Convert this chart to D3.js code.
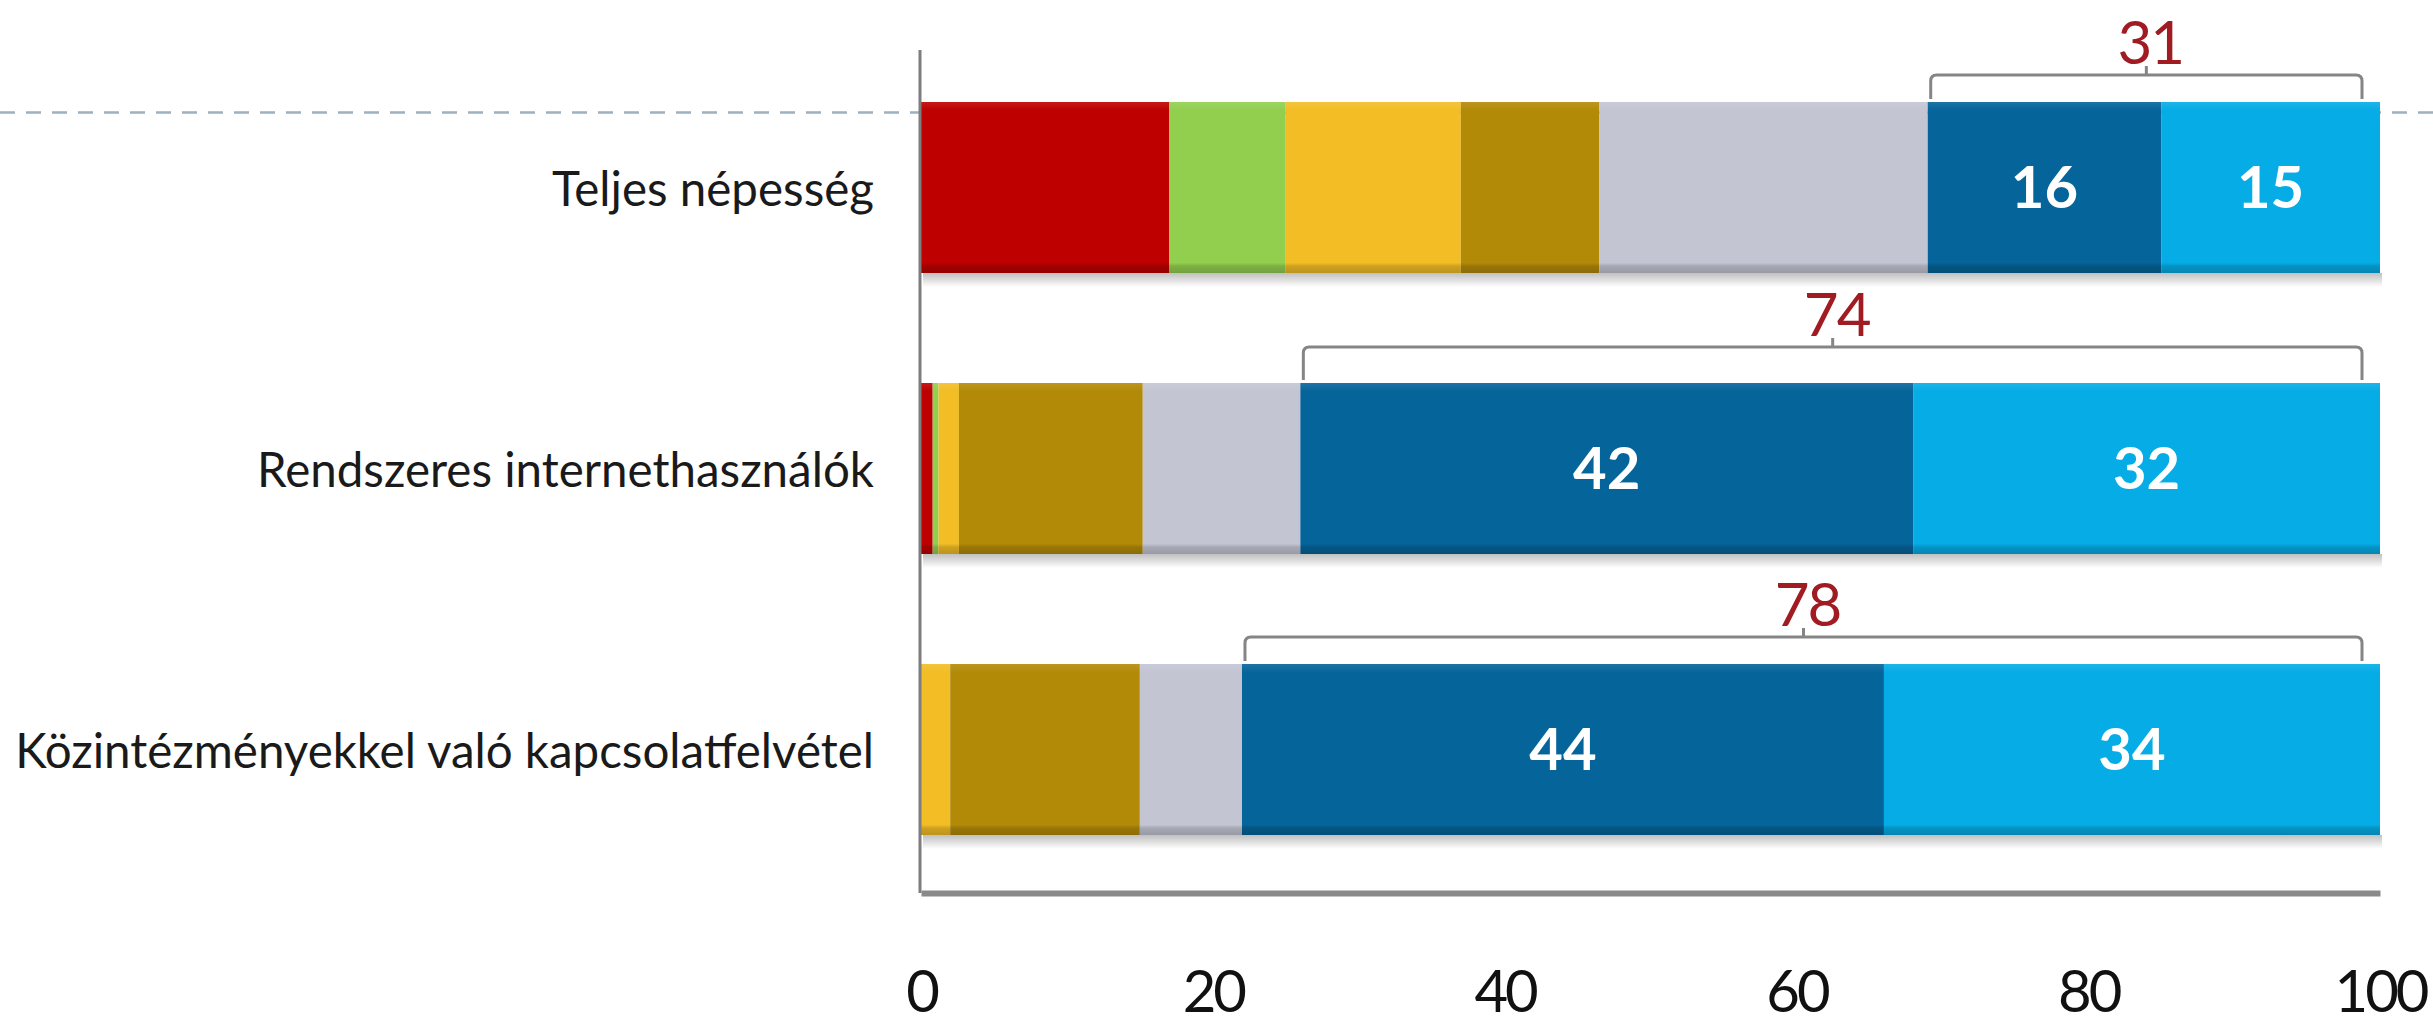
<!DOCTYPE html>
<html>
<head>
<meta charset="utf-8">
<script src="https://cdn.jsdelivr.net/npm/d3@7/dist/d3.min.js"></script>
<style>
  html, body { margin: 0; padding: 0; background: #ffffff; }
  svg { display: block; }
</style>
</head>
<body>
<svg id="chart" width="2433" height="1023"></svg>
<script>
// ---------- data ----------
const categories = ["Teljes népesség", "Rendszeres internethasználók", "Közintézményekkel való kapcsolatfelvétel"];
const seriesKeys = ["red", "green", "yellow", "gold", "gray", "darkBlue", "lightBlue"];
const redVals       = [17, 0.8, 0];
const greenVals     = [8, 0.4, 0];
const yellowVals    = [12, 1.4, 2];
const goldVals      = [9.5, 12.6, 13];
const grayVals      = [22.5, 10.8, 7];
const darkBlueVals  = [16, 42, 44];
const lightBlueVals = [15, 32, 34];
const bracketTotals = [31, 74, 78];
const xTickValues   = [0, 20, 40, 60, 80, 100];
const labelledKeys  = ["darkBlue", "lightBlue"];

// ---------- styles ----------
const colors = {
  red: "#be0000", green: "#92cf4f", yellow: "#f2bd25", gold: "#b38a08",
  gray: "#c3c5d3", darkBlue: "#05649a", lightBlue: "#05ace6"
};
const bracketLift = [27, 36, 27];

const rows = categories.map((c, i) => ({
  category: c,
  red: redVals[i], green: greenVals[i], yellow: yellowVals[i], gold: goldVals[i],
  gray: grayVals[i], darkBlue: darkBlueVals[i], lightBlue: lightBlueVals[i],
  total: bracketTotals[i]
}));

const svg = d3.select("#chart");

const x = d3.scaleLinear().domain([0, 100]).range([921, 2380]);
const y = d3.scaleBand().domain(categories).range([45.8, 891.2]).paddingInner(0.3915).paddingOuter(0.2);

const defs = svg.append("defs");
const shade = defs.append("linearGradient").attr("id", "shade").attr("x1", 0).attr("y1", 0).attr("x2", 0).attr("y2", 1);
shade.append("stop").attr("offset", "0%").attr("stop-color", "#fff").attr("stop-opacity", 0.10);
shade.append("stop").attr("offset", "5%").attr("stop-color", "#fff").attr("stop-opacity", 0.0);
shade.append("stop").attr("offset", "94%").attr("stop-color", "#000").attr("stop-opacity", 0.0);
shade.append("stop").attr("offset", "96%").attr("stop-color", "#000").attr("stop-opacity", 0.15);
shade.append("stop").attr("offset", "100%").attr("stop-color", "#000").attr("stop-opacity", 0.22);

const shadow = defs.append("linearGradient").attr("id", "shadow").attr("x1", 0).attr("y1", 0).attr("x2", 0).attr("y2", 1);
shadow.append("stop").attr("offset", "0%").attr("stop-color", "#000").attr("stop-opacity", 0.25);
shadow.append("stop").attr("offset", "100%").attr("stop-color", "#000").attr("stop-opacity", 0);

// dashed reference line
svg.append("line")
  .attr("x1", 0).attr("x2", 2433)
  .attr("y1", 112.5).attr("y2", 112.5)
  .attr("stroke", "#9fb0be").attr("stroke-width", 2.5)
  .attr("stroke-dasharray", "15 11");

// shadows under bars
svg.append("g").selectAll("rect").data(rows).join("rect")
  .attr("x", x(0) + 2)
  .attr("width", x(100) - x(0))
  .attr("y", d => y(d.category) + y.bandwidth())
  .attr("height", 14)
  .attr("fill", "url(#shadow)");

// stacked bars
const stack = d3.stack().keys(seriesKeys);
const series = stack(rows);

const gBars = svg.append("g");
series.forEach(s => {
  const g = gBars.append("g");
  g.selectAll("rect.seg").data(s).join("rect")
    .attr("class", "seg")
    .attr("x", d => x(d[0]))
    .attr("width", d => Math.max(0, x(d[1]) - x(d[0])))
    .attr("y", d => y(d.data.category))
    .attr("height", y.bandwidth())
    .attr("fill", colors[s.key]);
  g.selectAll("rect.shade").data(s.filter(d => d[1] - d[0] > 0)).join("rect")
    .attr("class", "shade")
    .attr("x", d => x(d[0]))
    .attr("width", d => Math.max(0, x(d[1]) - x(d[0])))
    .attr("y", d => y(d.data.category))
    .attr("height", y.bandwidth())
    .attr("fill", "url(#shade)");
});

// value labels in blue segments
series.filter(s => labelledKeys.includes(s.key)).forEach(s => {
  gBars.append("g").selectAll("text").data(s).join("text")
    .attr("x", d => (x(d[0]) + x(d[1])) / 2)
    .attr("y", d => y(d.data.category) + y.bandwidth() / 2)
    .attr("dy", "0.36em")
    .attr("text-anchor", "middle")
    .attr("font-family", "Lato, 'Open Sans', sans-serif")
    .attr("font-weight", 700)
    .attr("font-size", 58)
    .attr("fill", "#ffffff")
    .text(d => d.data[s.key]);
});

// brackets
const darkBlueSeries = series.find(s => s.key === "darkBlue");
const gBr = svg.append("g");
rows.forEach((r, i) => {
  const x0 = x(darkBlueSeries[i][0]) + 3;
  const x1 = x(100) - 18;
  const top = y(r.category);
  const ly = top - bracketLift[i];
  const endY = top - 3;
  const rad = 6;
  const path = d3.path();
  path.moveTo(x0, endY);
  path.lineTo(x0, ly + rad);
  path.quadraticCurveTo(x0, ly, x0 + rad, ly);
  path.lineTo(x1 - rad, ly);
  path.quadraticCurveTo(x1, ly, x1, ly + rad);
  path.lineTo(x1, endY);
  const cx = (x0 + x1) / 2;
  path.moveTo(cx, ly);
  path.lineTo(cx, ly - 9);
  gBr.append("path")
    .attr("d", path.toString())
    .attr("fill", "none")
    .attr("stroke", "#858585")
    .attr("stroke-width", 3);
  gBr.append("text")
    .attr("x", cx + 4)
    .attr("y", ly - 11)
    .attr("text-anchor", "middle")
    .attr("font-family", "Lato, 'Open Sans', sans-serif")
    .attr("font-size", 60)
    .attr("letter-spacing", -2)
    .attr("fill", "#a01c22")
    .text(r.total);
});

// axes
svg.append("line")
  .attr("x1", x(0) - 1).attr("x2", x(0) - 1)
  .attr("y1", 50).attr("y2", 893)
  .attr("stroke", "#7e7e7e").attr("stroke-width", 3);

const xAxis = d3.axisBottom(x).tickValues(xTickValues).tickSize(0).tickPadding(78).tickFormat(d3.format("d"));
const gx = svg.append("g").attr("transform", "translate(0,893)").call(xAxis);
gx.select(".domain").attr("stroke", "#8a8a8a").attr("stroke-width", 6);
gx.selectAll("text")
  .attr("font-family", "Lato, 'Open Sans', sans-serif")
  .attr("font-size", 58)
  .attr("letter-spacing", -3)
  .attr("fill", "#111");

// category labels
const yAxis = d3.axisLeft(y).tickSize(0).tickPadding(47);
const gy = svg.append("g").attr("transform", `translate(${x(0)},0)`).call(yAxis);
gy.select(".domain").remove();
gy.selectAll("text")
  .attr("font-family", "Lato, 'Open Sans', sans-serif")
  .attr("font-size", 47.5)
  .attr("dy", "0.38em")
  .attr("fill", "#1a1a1a");
</script>
</body>
</html>
